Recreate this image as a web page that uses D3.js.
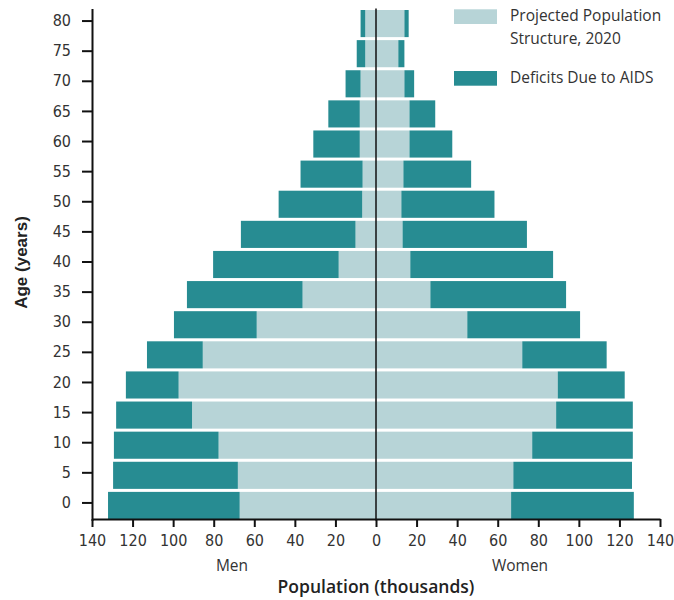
<!DOCTYPE html>
<html>
<head>
<meta charset="utf-8">
<script src="https://cdn.jsdelivr.net/npm/d3@7/dist/d3.min.js"></script>
<style>
  html, body { margin: 0; padding: 0; background: #fff; }
  svg { display: block; }
  .tick text { font-family: "Liberation Sans Narrow", "DejaVu Sans Condensed", "Open Sans", sans-serif; font-size: 16px; fill: #333; }
</style>
</head>
<body>
<svg id="chart" width="674" height="600"></svg>
<script>
// Age groups (lower bound of 5-year band)
const ages = [0, 5, 10, 15, 20, 25, 30, 35, 40, 45, 50, 55, 60, 65, 70, 75, 80];
// Men (thousands)
const menProjected = [67.2, 68.1, 77.6, 90.7, 97.3, 85.4, 58.8, 36.2, 18.4, 10.1, 6.8, 6.6, 8.0, 8.0, 7.6, 5.3, 5.3];
const menDeficit   = [64.9, 61.5, 51.6, 37.4, 26.0, 27.5, 40.8, 57.0, 61.9, 56.5, 41.2, 30.6, 22.9, 15.5, 7.4, 4.2, 2.3];
// Women (thousands)
const womenProjected = [66.6, 67.7, 77.0, 88.8, 89.6, 72.1, 45.0, 26.8, 16.9, 13.1, 12.5, 13.5, 16.5, 16.5, 14.0, 11.0, 14.0];
const womenDeficit   = [60.5, 58.5, 49.6, 37.8, 33.0, 41.6, 55.6, 66.9, 70.4, 61.3, 45.9, 33.4, 21.1, 12.7, 4.8, 3.0, 2.1];
// Axis ticks
const xTicks = [-140, -120, -100, -80, -60, -40, -20, 0, 20, 40, 60, 80, 100, 120, 140];
const legendLabels = [["Projected Population", "Structure, 2020"], ["Deficits Due to AIDS"]];

const lightColor = "#b7d4d7";
const darkColor = "#278c92";

const svg = d3.select("#chart");

const x = d3.scaleLinear().domain([-140, 140]).range([92, 660]);
const y = d3.scaleBand().domain(ages.slice().reverse()).range([8.5, 520.5])
  .paddingInner(0.1).paddingOuter(0.05);

const rows = ages.map((a, i) => ({
  age: a,
  mp: menProjected[i], md: menDeficit[i],
  wp: womenProjected[i], wd: womenDeficit[i]
}));

const g = svg.append("g");
// Men projected
g.selectAll(".mp").data(rows).join("rect")
  .attr("x", d => x(-d.mp)).attr("width", d => x(0) - x(-d.mp))
  .attr("y", d => y(d.age)).attr("height", y.bandwidth())
  .attr("fill", lightColor);
// Men deficit
g.selectAll(".md").data(rows).join("rect")
  .attr("x", d => x(-(d.mp + d.md))).attr("width", d => x(-d.mp) - x(-(d.mp + d.md)))
  .attr("y", d => y(d.age)).attr("height", y.bandwidth())
  .attr("fill", darkColor);
// Women projected
g.selectAll(".wp").data(rows).join("rect")
  .attr("x", x(0)).attr("width", d => x(d.wp) - x(0))
  .attr("y", d => y(d.age)).attr("height", y.bandwidth())
  .attr("fill", lightColor);
// Women deficit
g.selectAll(".wd").data(rows).join("rect")
  .attr("x", d => x(d.wp)).attr("width", d => x(d.wp + d.wd) - x(d.wp))
  .attr("y", d => y(d.age)).attr("height", y.bandwidth())
  .attr("fill", darkColor);

// Center line
svg.append("line")
  .attr("x1", x(0)).attr("x2", x(0))
  .attr("y1", y.range()[0]).attr("y2", y.range()[1])
  .attr("stroke", "#111").attr("stroke-width", 1.5);

// X axis
const xAxis = svg.append("g")
  .attr("transform", `translate(0,${y.range()[1] - 1.5})`)
  .call(d3.axisBottom(x).tickValues(xTicks).tickSize(8).tickSizeOuter(0).tickPadding(8)
    .tickFormat(d => Math.abs(d)));
xAxis.select(".domain").attr("stroke", "#111").attr("stroke-width", 2);
xAxis.selectAll(".tick line").attr("stroke", "#111").attr("stroke-width", 2);

// Y axis
const yAxis = svg.append("g")
  .attr("transform", `translate(${x(-140)},0)`)
  .call(d3.axisLeft(y).tickSize(10).tickSizeOuter(0).tickPadding(11));
yAxis.selectAll(".tick").attr("transform", d => `translate(0,${y(d) + y.bandwidth() / 2 - 2.5})`);
yAxis.select(".domain").attr("stroke", "#111").attr("stroke-width", 2);
yAxis.selectAll(".tick line").attr("stroke", "#111").attr("stroke-width", 2);

// Axis titles
svg.append("text")
  .attr("transform", `translate(27,${(y.range()[0] + y.range()[1]) / 2 - 2}) rotate(-90)`)
  .attr("text-anchor", "middle")
  .style("font-family", "'Liberation Sans', Arial, sans-serif")
  .style("font-weight", "bold").style("font-size", "17px").style("fill", "#222")
  .text("Age (years)");

svg.append("text")
  .attr("x", x(0)).attr("y", 593)
  .attr("text-anchor", "middle")
  .style("font-family", "'Open Sans', sans-serif")
  .style("font-weight", 600).style("font-size", "17.5px").style("fill", "#222")
  .text("Population (thousands)");

svg.append("text")
  .attr("x", x(-71)).attr("y", 571)
  .attr("text-anchor", "middle")
  .style("font-family", "'Open Sans', sans-serif")
  .style("font-size", "15.5px").style("fill", "#333")
  .text("Men");

svg.append("text")
  .attr("x", x(71)).attr("y", 571)
  .attr("text-anchor", "middle")
  .style("font-family", "'Open Sans', sans-serif")
  .style("font-size", "15.5px").style("fill", "#333")
  .text("Women");

// Legend
const legend = svg.append("g");
const legendColors = [lightColor, darkColor];
const legendY = [9.3, 71];
legendLabels.forEach((lines, i) => {
  legend.append("rect")
    .attr("x", 454).attr("y", legendY[i]).attr("width", 43).attr("height", 14.7)
    .attr("fill", legendColors[i]);
  lines.forEach((t, j) => {
    legend.append("text")
      .attr("x", 510).attr("y", legendY[i] + 12 + j * 22.6)
      .style("font-family", "'Open Sans', sans-serif")
      .style("font-size", "15.5px").style("fill", "#333")
      .text(t);
  });
});
</script>
</body>
</html>
